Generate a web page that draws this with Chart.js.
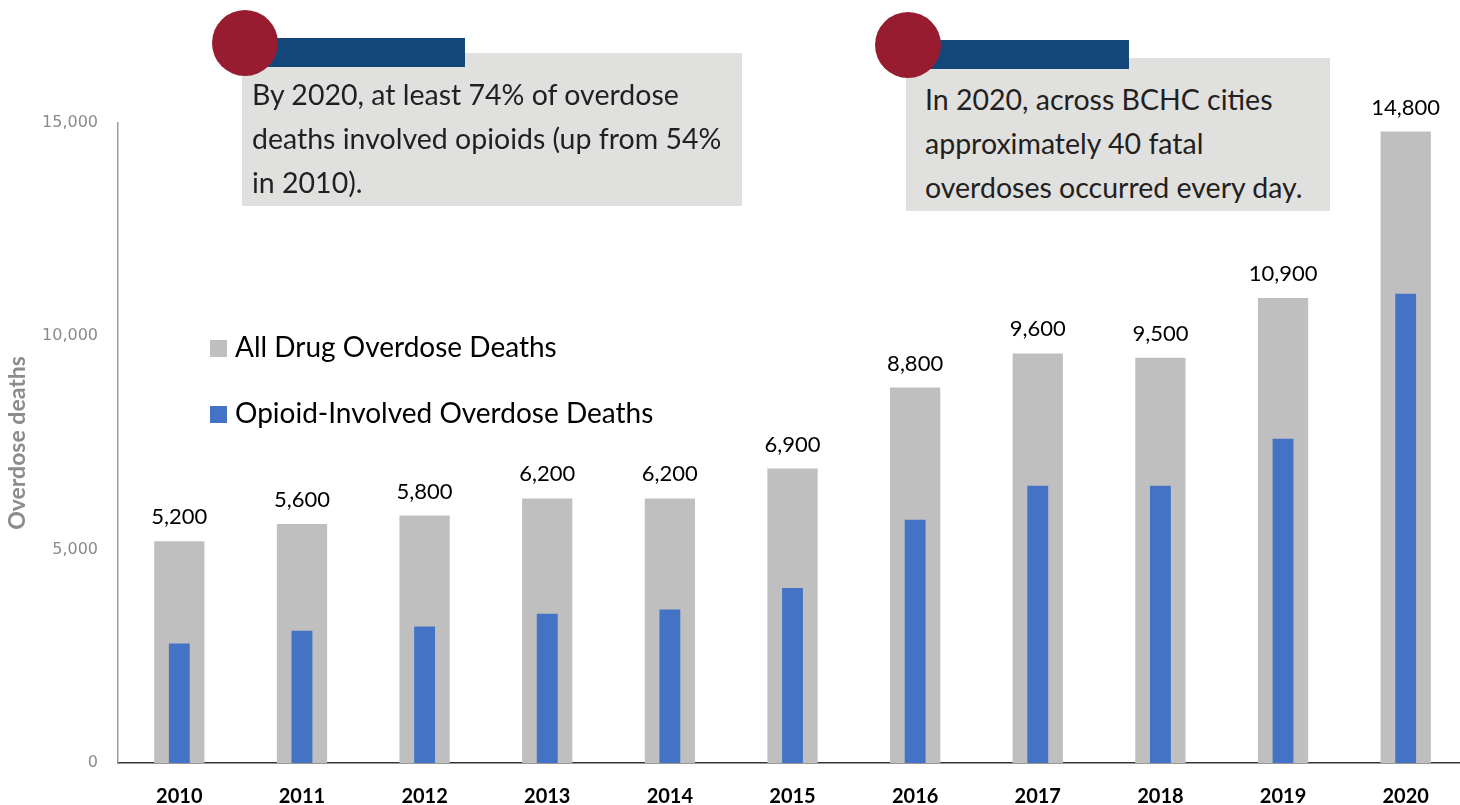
<!DOCTYPE html>
<html>
<head>
<meta charset="utf-8">
<title>Overdose deaths</title>
<script src="https://cdn.jsdelivr.net/npm/chart.js@4.4.0/dist/chart.umd.min.js"></script>
<style>
    html, body { margin: 0; padding: 0; background: #fff; overflow: hidden; }
    #wrap { position: relative; width: 1460px; height: 805px; overflow: hidden; }
    #chart { position: absolute; left: 0; top: 0; }
    .note { position: absolute; background: #e0e0df; }
    .note-bar { position: absolute; background: #134679; }
    .note-dot { position: absolute; width: 66px; height: 66px; border-radius: 50%; background: #981c2f; }
    .note-text { position: absolute; font-family: Lato, sans-serif; font-size: 28.5px; line-height: 44px; color: #231f20; white-space: nowrap; }
</style>
</head>
<body>
<div id="wrap">
    <canvas id="chart" width="1470" height="805"></canvas>

    <div class="note" style="left:242px; top:53px; width:500px; height:153px;"></div>
    <div class="note-bar" style="left:245px; top:38px; width:220px; height:29px;"></div>
    <div class="note-dot" style="left:212px; top:10px;"></div>
    <div class="note-text" style="left:252px; top:72px;">By 2020, at least 74% of overdose<br>deaths involved opioids (up from 54%<br>in 2010).</div>

    <div class="note" style="left:906px; top:58px; width:424px; height:153px;"></div>
    <div class="note-bar" style="left:908px; top:40px; width:221px; height:29px;"></div>
    <div class="note-dot" style="left:875px; top:12px;"></div>
    <div class="note-text" style="left:925px; top:77px;">In 2020, across BCHC cities<br>approximately 40 fatal<br>overdoses occurred every day.</div>
</div>

<script>
// data
const years = ['2010', '2011', '2012', '2013', '2014', '2015', '2016', '2017', '2018', '2019', '2020'];
const allDeaths = [5200, 5600, 5800, 6200, 6200, 6900, 8800, 9600, 9500, 10900, 14800];
const opioidDeaths = [2800, 3100, 3200, 3500, 3600, 4100, 5700, 6500, 6500, 7600, 11000];
const yTicks = [0, 5000, 10000, 15000];
const seriesNames = ['All Drug Overdose Deaths', 'Opioid-Involved Overdose Deaths'];
const seriesColors = ['#bfbfbf', '#4472c4'];

const fmt = v => v.toLocaleString('en-US');

// numbers above the grey bars
const valueLabels = {
    id: 'valueLabels',
    afterDatasetsDraw(chart) {
        const ctx = chart.ctx;
        const meta = chart.getDatasetMeta(0);
        ctx.save();
        ctx.font = '22px Lato';
        ctx.fillStyle = '#000';
        ctx.textAlign = 'center';
        ctx.textBaseline = 'alphabetic';
        meta.data.forEach((bar, i) => {
            ctx.fillText(fmt(chart.data.datasets[0].data[i]), bar.x, bar.y - 17);
        });
        ctx.restore();
    }
};

// legend sits inside the plot, left side
const innerLegend = {
    id: 'innerLegend',
    afterDraw(chart) {
        const ctx = chart.ctx;
        const rows = [357, 423];
        ctx.save();
        ctx.font = '28px Lato';
        ctx.textBaseline = 'alphabetic';
        ctx.textAlign = 'left';
        chart.data.datasets.forEach((ds, i) => {
            ctx.fillStyle = ds.backgroundColor;
            ctx.fillRect(210, rows[i] - 17, 17, 17);
            ctx.fillStyle = '#000';
            ctx.fillText(ds.label, 235, rows[i]);
        });
        ctx.restore();
    }
};

const ctx = document.getElementById('chart').getContext('2d');
const chart = new Chart(ctx, {
    type: 'bar',
    data: {
        labels: years,
        datasets: [{
            label: seriesNames[0],
            data: allDeaths,
            backgroundColor: seriesColors[0],
            barPercentage: 0.41,
            categoryPercentage: 1,
            grouped: false,
            order: 2
        }, {
            label: seriesNames[1],
            data: opioidDeaths,
            backgroundColor: seriesColors[1],
            barPercentage: 0.17,
            categoryPercentage: 1,
            grouped: false,
            order: 1
        }]
    },
    options: {
        responsive: false,
        animation: false,
        layout: {
            padding: { top: 123, right: 3, left: 0, bottom: 0 }
        },
        plugins: {
            legend: { display: false },
            tooltip: { enabled: false }
        },
        scales: {
            x: {
                grid: { display: false, drawTicks: false },
                border: { display: true, color: '#333', width: 1.5 },
                ticks: {
                    color: '#000',
                    font: { family: 'Lato', size: 20, weight: 'bold' },
                    padding: 22
                },
                afterFit(scale) { scale.height = 42; }
            },
            y: {
                min: 0,
                max: 15000,
                afterBuildTicks(scale) { scale.ticks = yTicks.map(v => ({ value: v })); },
                grid: { display: false, drawTicks: false },
                border: { display: true, color: '#9a9a9a', width: 1.5 },
                ticks: {
                    color: '#8a8a8a',
                    font: { family: 'DejaVu Sans', size: 16 },
                    padding: 20,
                    callback: v => fmt(v)
                },
                title: {
                    display: true,
                    text: 'Overdose deaths',
                    color: '#8c8c8c',
                    font: { family: 'Lato', size: 23, weight: 'bold' },
                    padding: { top: 4, bottom: 0 }
                },
                afterFit(scale) { scale.width = 118; }
            }
        }
    },
    plugins: [valueLabels, innerLegend]
});
</script>
</body>
</html>
